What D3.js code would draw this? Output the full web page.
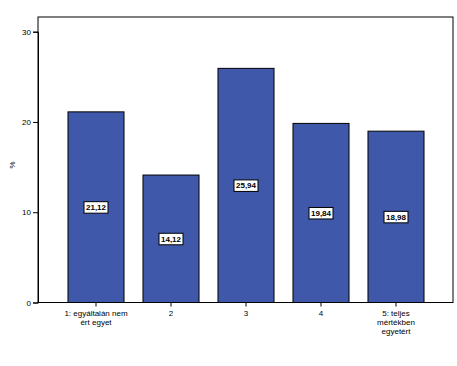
<!DOCTYPE html>
<html><head><meta charset="utf-8">
<script src="https://cdn.jsdelivr.net/npm/d3@7"></script>
<style>body{margin:0;background:#fff}</style>
</head><body>
<script>
const categories = ["1: egyáltalán nem ért egyet", "2", "3", "4", "5: teljes mértékben egyetért"];
const categoryLines = [["1: egyáltalán nem", "ért egyet"], ["2"], ["3"], ["4"], ["5: teljes", "mértékben", "egyetért"]];
const values = [21.12, 14.12, 25.94, 19.84, 18.98];
const valueLabels = ["21,12", "14,12", "25,94", "19,84", "18,98"];
const yTicks = [0, 10, 20, 30];
const yTitle = "%";

const W = 457, H = 366;
const svg = d3.select("body").append("svg").attr("width", W).attr("height", H);
const frame = {l: 38, t: 17, r: 453, b: 302.5};
const font = "Liberation Sans, Arial, sans-serif";

const x = d3.scaleBand().domain(categories).range([58.5, 433.5]).paddingInner(0.253).paddingOuter(0.1265);
const y = d3.scaleLinear().domain([0, 30]).range([302.5, 31.7]);

// frame
svg.append("rect").attr("x", frame.l).attr("y", frame.t).attr("width", frame.r - frame.l).attr("height", frame.b - frame.t)
  .attr("fill", "none").attr("stroke", "#000").attr("stroke-width", 1);

// bars
svg.selectAll("rect.bar").data(values).enter().append("rect").attr("class", "bar")
  .attr("x", (d, i) => x(categories[i]))
  .attr("y", d => y(d))
  .attr("width", x.bandwidth())
  .attr("height", d => y(0) - y(d))
  .attr("fill", "#3F58AA").attr("stroke", "#000").attr("stroke-width", 1);

// y axis
const yAxis = d3.axisLeft(y).tickValues(yTicks).tickSize(5).tickPadding(2).tickFormat(d3.format("d"));
const ga = svg.append("g").attr("transform", `translate(${frame.l},0)`).call(yAxis);
ga.select(".domain").attr("stroke", "#000");
ga.selectAll("text").attr("font-family", font).attr("font-size", 8).attr("fill", "#000");

// x axis
const xAxis = d3.axisBottom(x).tickSize(4).tickFormat("");
const gx = svg.append("g").attr("transform", `translate(0,${frame.b})`).call(xAxis);
gx.select(".domain").remove();

// x labels
categories.forEach((c, i) => {
  const t = svg.append("text").attr("x", x(c) + x.bandwidth() / 2).attr("y", 316)
    .attr("text-anchor", "middle").attr("font-family", font).attr("font-size", 8).attr("fill", "#000");
  categoryLines[i].forEach((ln, j) => t.append("tspan").attr("x", x(c) + x.bandwidth() / 2).attr("dy", j ? 9 : 0).text(ln));
});

// y title
svg.append("text").attr("transform", "translate(15,165) rotate(-90)").attr("text-anchor", "middle")
  .attr("font-family", font).attr("font-size", 8).text(yTitle);

// value labels
values.forEach((v, i) => {
  const cx = x(categories[i]) + x.bandwidth() / 2, cy = y(v / 2);
  const g = svg.append("g");
  const t = g.append("text").attr("x", cx).attr("y", cy + 3).attr("text-anchor", "middle")
    .attr("font-family", font).attr("font-size", 8).attr("font-weight", "bold").attr("fill", "#000").text(valueLabels[i]);
  const bb = t.node().getBBox();
  g.insert("rect", "text").attr("x", cx - 12).attr("y", cy - 5.5).attr("width", 24).attr("height", 11.5)
    .attr("fill", "#fff").attr("stroke", "#000").attr("stroke-width", 1);
});
</script>
</body></html>
